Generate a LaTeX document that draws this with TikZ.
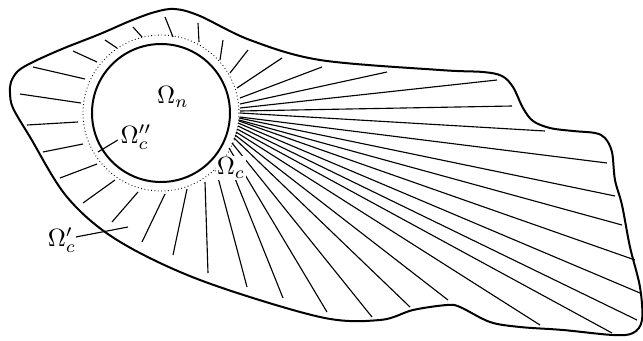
\documentclass[tikz,border=0pt]{standalone}
\begin{document}
\begin{tikzpicture}[x=0.4pt,y=-0.4pt,
  boundary/.style={line width=0.8pt, line join=round},
  ray/.style={line width=0.45pt},
  nucleus/.style={line width=0.8pt},
  cutoff/.style={line width=0.35pt, densely dotted},
  lbl/.style={inner sep=0.5pt}]
\useasboundingbox (0,0) rectangle (643,341);
\coordinate (c) at (161,113);
% outer domain
\draw[boundary] plot[smooth cycle, tension=0.55] coordinates {
 (10,93) (13,108) (30,137) (67,197) (117,240) (200,280) (320,317)
 (380,320) (413,310) (447,305) (460,307) (490,322) (520,327) (563,330)
 (613,335) (633,333) (642,320) (640,287) (630,247) (622,205) (615,180)
 (612,152) (605,138) (595,133) (573,131) (550,128) (533,121) (523,108)
 (513,87) (502,76) (483,72) (440,70) (320,60) (250,40) (200,16)
 (175,9) (155,12) (130,21) (100,34) (62,49) (33,62) (18,71) (11,82)};
% rays
\foreach \xa/\ya/\xb/\yb in {
 142/37/133/27, 117/48/105/40, 97/62/73/51, 85/79/33/67, 81/103/20/94,
 78/122/27/125, 83/144/43/152, 97/164/60/178, 115/180/83/203,
 138/192/112/222, 165/194/142/242, 187/189/173/255, 205/182/208/273,
 216/170/247/287, 226/156/283/298, 229/148/327/312, 232/143/372/317,
 234/138/410/307, 235/135/448/300, 236/132/540/325, 237/129/612/333,
 238/126/637/320, 238/123/640/293, 239/121/635/260, 239/120/622/225,
 239/118/615/196, 240/117/607/163, 240/113/545/131, 240/111/512/106,
 240/108/497/80, 240/104/387/72, 240/98/322/67, 237/88/282/58,
 230/73/248/50, 220/60/223/40, 199/42/198/23, 173/37/165/17}
 \draw[ray] (\xa,\ya) -- (\xb,\yb);
% circles
\draw[nucleus] (c) circle[radius=69];
\draw[cutoff] (c) circle[radius=78];
% labels
\node[lbl] (ln) at (173,97) {$\Omega_n$};
\node[lbl] (lcpp) at (136,137) {$\Omega_c''$};
\coordinate (pcpp) at (98,152);
\draw[ray] (pcpp) -- ([shift={(-1,3)}]lcpp.west);
\node[lbl, fill=white] (lc) at (231,168) {$\Omega_c$};
\node[lbl] (lcp) at (62,240) {$\Omega_c'$};
\coordinate (pcp) at (128,227);
\draw[ray] ([shift={(-2,-3)}]lcp.east) -- (pcp);
\end{tikzpicture}
\end{document}
